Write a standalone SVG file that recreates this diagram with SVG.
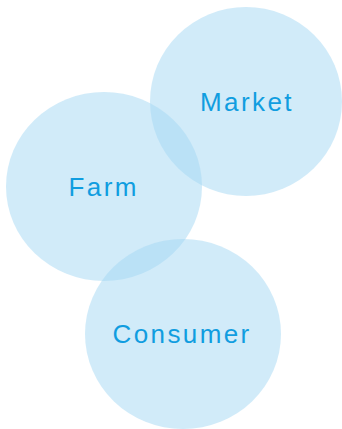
<svg xmlns="http://www.w3.org/2000/svg" width="342" height="429" viewBox="0 0 342 429">
<style>
.c{fill:#a3d7f3;fill-opacity:0.5}
.t{font-family:"Liberation Sans",Arial,sans-serif;font-size:26px;letter-spacing:2.4px;fill:#109de0}
</style>
<rect width="342" height="429" fill="#ffffff"/>
<g id="market"><ellipse class="c" cx="246" cy="101.5" rx="96" ry="94.5"/><text class="t" x="200" y="111">Market</text></g>
<g id="farm"><ellipse class="c" cx="104" cy="186.5" rx="98" ry="94.5"/><text class="t" x="68.5" y="196">Farm</text></g>
<g id="consumer"><ellipse class="c" cx="183" cy="334" rx="98" ry="95"/><text class="t" x="112.5" y="343">Consumer</text></g>
<g id="connectors"/>
</svg>
